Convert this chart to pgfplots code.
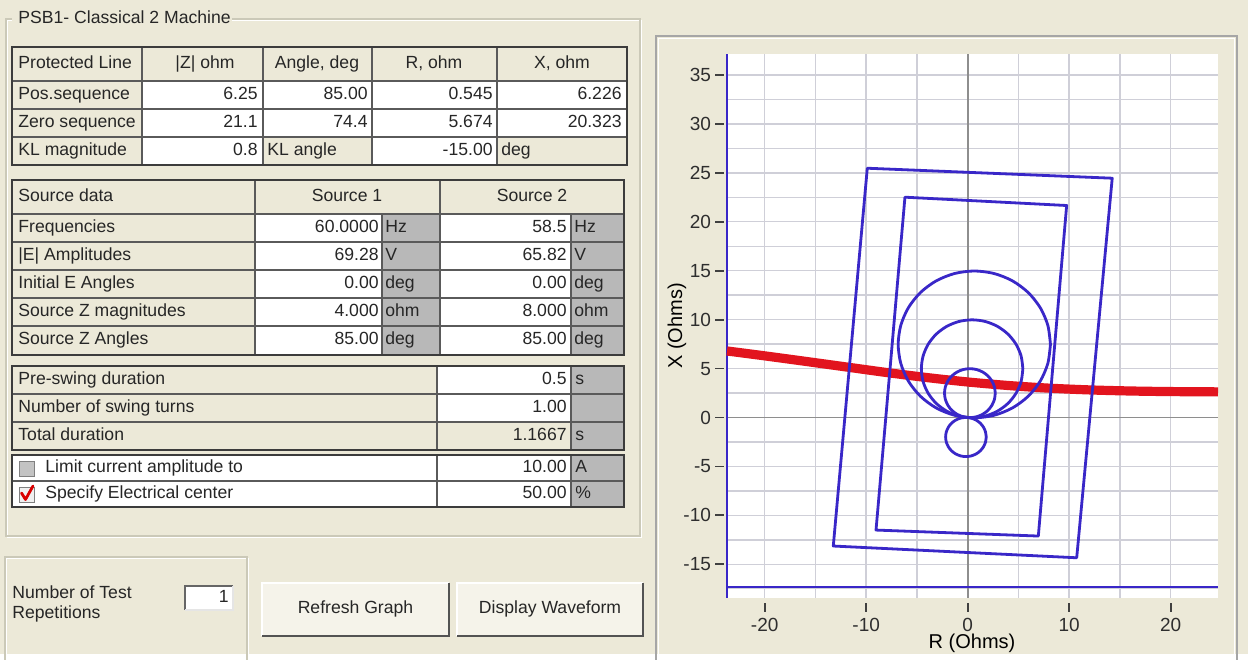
\documentclass[border=0pt]{standalone}
\usepackage{pgfplots}
\pgfplotsset{compat=1.18}
\usepackage{fontspec}
\setmainfont{Liberation Sans}

\definecolor{panel}{HTML}{ECE9D8}
\definecolor{unitgray}{HTML}{B8B8B8}
\definecolor{rulec}{HTML}{5A5A5A}
\definecolor{framec}{HTML}{3C3C3C}
\definecolor{etch}{HTML}{CBC9B8}
\definecolor{textc}{HTML}{262626}
\definecolor{gridc}{HTML}{CFCFD8}
\definecolor{zeroc}{HTML}{8E8E8E}
\definecolor{zoneblue}{HTML}{3927C8}
\definecolor{swingred}{HTML}{E2141E}

\tikzset{lbl/.style={inner sep=0pt, text height=6.6pt, text depth=1.9pt,
  font=\fontsize{8.8}{10}\selectfont, text=textc}}
\newcommand\TL[3]{\node[lbl,anchor=west] at (#1,#2) {#3};}
\newcommand\TR[3]{\node[lbl,anchor=east] at (#1,#2) {#3};}
\newcommand\TC[3]{\node[lbl] at (#1,#2) {#3};}
\newcommand\CW[4]{\fill[white] (#1,#2) rectangle (#3,#4);}
\newcommand\CG[4]{\fill[unitgray] (#1,#2) rectangle (#3,#4);}

\begin{document}
\begin{tikzpicture}
% ---------------- dialog (units: screen pixels, y downwards) ----------------
\begin{scope}[x=0.5pt,y=-0.5pt]
\useasboundingbox (0,0) rectangle (1248,654);
\fill[panel] (0,0) rectangle (1248,654);

% group box
\draw[white, line width=0.6pt] (7.5,20.5) rectangle (641.5,537.5);
\draw[etch, line width=0.8pt] (6,19) rectangle (640,536);
\fill[panel] (12,8) rectangle (232,30);
\TL{18}{19}{PSB1- Classical 2 Machine}

% protected line table
\CW{142}{81}{627}{137}
\CW{142}{137}{263}{165}
\CW{372}{137}{497}{165}
\draw[rulec, line width=0.7pt] (12,81) -- (627,81) (12,109) -- (627,109) (12,137) -- (627,137)
  (142,47) -- (142,165) (263,47) -- (263,165) (372,47) -- (372,165) (497,47) -- (497,165);
\draw[framec, line width=1.2pt] (12,47) rectangle (627,165);
\TL{18}{64}{Protected Line}
\TC{205}{64}{|Z| ohm}
\TC{317}{64}{Angle, deg}
\TC{434}{64}{R, ohm}
\TC{562}{64}{X, ohm}
\TL{18}{95}{Pos.sequence}
\TR{258}{95}{6.25}
\TR{368}{95}{85.00}
\TR{493}{95}{0.545}
\TR{622}{95}{6.226}
\TL{18}{123}{Zero sequence}
\TR{258}{123}{21.1}
\TR{368}{123}{74.4}
\TR{493}{123}{5.674}
\TR{622}{123}{20.323}
\TL{18}{151}{KL magnitude}
\TR{258}{151}{0.8}
\TL{267}{151}{KL angle}
\TR{493}{151}{-15.00}
\TL{501}{151}{deg}

% source data table
\CW{255}{214}{382}{355}
\CG{382}{214}{440}{355}
\CW{440}{214}{571}{355}
\CG{571}{214}{624}{355}
\draw[rulec, line width=0.7pt] (12,214) -- (624,214) (12,242) -- (624,242) (12,270) -- (624,270)
  (12,298) -- (624,298) (12,326) -- (624,326)
  (255,180) -- (255,355) (440,180) -- (440,355) (382,214) -- (382,355) (571,214) -- (571,355);
\draw[framec, line width=1.2pt] (12,180) rectangle (624,355);
\TL{18}{197}{Source data}
\TC{347}{197}{Source 1}
\TC{532}{197}{Source 2}
\TL{18}{228}{Frequencies}
\TR{379}{228}{60.0000}\TL{385}{228}{Hz}
\TR{567}{228}{58.5}\TL{574}{228}{Hz}
\TL{18}{256}{|E| Amplitudes}
\TR{379}{256}{69.28}\TL{385}{256}{V}
\TR{567}{256}{65.82}\TL{574}{256}{V}
\TL{18}{284}{Initial E Angles}
\TR{379}{284}{0.00}\TL{385}{284}{deg}
\TR{567}{284}{0.00}\TL{574}{284}{deg}
\TL{18}{312}{Source Z magnitudes}
\TR{379}{312}{4.000}\TL{385}{312}{ohm}
\TR{567}{312}{8.000}\TL{574}{312}{ohm}
\TL{18}{340}{Source Z Angles}
\TR{379}{340}{85.00}\TL{385}{340}{deg}
\TR{567}{340}{85.00}\TL{574}{340}{deg}

% swing timing table
\CW{437}{366}{571}{422}
\CG{571}{366}{624}{450}
\draw[rulec, line width=0.7pt] (12,394) -- (624,394) (12,422) -- (624,422)
  (437,366) -- (437,450) (571,366) -- (571,450);
\draw[framec, line width=1.2pt] (12,366) rectangle (624,450);
\TL{18}{380}{Pre-swing duration}
\TR{567}{380}{0.5}\TL{575}{380}{s}
\TL{18}{408}{Number of swing turns}
\TR{567}{408}{1.00}
\TL{18}{436}{Total duration}
\TR{567}{436}{1.1667}\TL{575}{436}{s}

% options table
\CW{12}{455}{571}{507}
\CG{571}{455}{624}{507}
\draw[rulec, line width=0.7pt] (12,481) -- (624,481) (437,455) -- (437,507) (571,455) -- (571,507);
\draw[framec, line width=1.2pt] (12,455) rectangle (624,507);
\filldraw[fill=unitgray!85, draw=gray] (19,461) rectangle (34,476);
\filldraw[fill=white!88!gray, draw=gray] (19,487) rectangle (34,502);
\draw[red!85!black, line width=1.4pt, line cap=round, line join=round] (21.5,493) -- (25.5,499.5) -- (33,486);
\TL{45}{468}{Limit current amplitude to}
\TR{567}{468}{10.00}\TL{575}{468}{A}
\TL{45}{494}{Specify Electrical center}
\TR{567}{494}{50.00}\TL{575}{494}{\%}

% repetitions and buttons
\draw[white, line width=0.6pt] (6.5,660) -- (6.5,558.5) -- (248.5,558.5) -- (248.5,660);
\draw[etch, line width=0.8pt] (5,660) -- (5,557) -- (247,557) -- (247,660);
\TL{12}{594}{Number of Test}
\TL{12}{614}{Repetitions}
\fill[white] (185,586) rectangle (233,610);
\draw[gray!80!black, line width=0.8pt] (185,610) -- (185,586) -- (233,586);
\draw[white!80!gray, line width=0.8pt] (233,586) -- (233,610) -- (185,610);
\TR{229}{598}{1}
\foreach \a/\b/\t in {262/449/Refresh Graph, 457/643/Display Waveform}{
  \fill[panel!55!white] (\a,583) rectangle (\b,636);
  \draw[white, line width=1pt] (\a,636) -- (\a,583) -- (\b,583);
  \draw[gray!65!black, line width=1.2pt] (\b,583) -- (\b,636) -- (\a,636);
  \TC{{(\a+\b)/2}}{609}{\t}
}

% plot panel frame
\draw[black!35, line width=1.2pt] (656,36) rectangle (1237,680);
\draw[white, line width=0.8pt] (658.5,38.5) rectangle (1234.5,680);
\end{scope}

% ---------------- impedance plane ----------------
\begin{axis}[
  at={(363.5pt,-299pt)}, anchor=south west,
  scale only axis, width=245.5pt, height=272pt,
  xmin=-23.71, xmax=24.66, ymin=-18.44, ymax=37.14,
  clip=false,
  axis background/.style={fill=white},
  axis line style={draw=none},
  xtick={-20,-10,0,10,20},
  ytick={-15,-10,-5,0,5,10,15,20,25,30,35},
  minor xtick={-15,-5,5,15},
  minor ytick={-17.5,-12.5,-7.5,-2.5,2.5,7.5,12.5,17.5,22.5,27.5,32.5},
  grid=both,
  major grid style={draw=gridc, line width=0.7pt},
  minor grid style={draw=gridc, line width=0.7pt},
  tick align=outside, xtick pos=bottom, ytick pos=left,
  major tick length=4.5pt, minor tick length=0pt,
  tick style={draw=black!75, line width=0.9pt},
  every major x tick/.append style={yshift=-2.5pt},
  every major y tick/.append style={xshift=-1.5pt},
  tick label style={font=\fontsize{9.5}{11}\selectfont, text=black!82},
  /pgf/number format/assume math mode=true,
  xticklabel style={yshift=-2pt},
  xlabel={R (Ohms)}, ylabel={X (Ohms)},
  label style={font=\fontsize{9.5}{11}\selectfont, text=black!82},
  every axis x label/.style={at={(axis description cs:0.499,-0.083)}, anchor=center},
  every axis y label/.style={at={(axis description cs:-0.102,0.5)}, anchor=center, rotate=90},
]
% zero axes
\addplot[zeroc, line width=0.9pt] coordinates {(0,-18.44) (0,37.14)};
\addplot[zeroc, line width=0.9pt] coordinates {(-23.71,0) (24.66,0)};
% chart frame lines
\addplot[zoneblue, line width=1pt] coordinates {(-23.71,-18.44) (-23.71,37.14)};
\addplot[zoneblue, line width=1pt] coordinates {(-23.71,-17.3) (24.66,-17.3)};

% impedance trajectory of the swing
\addplot[swingred, line width=4.6pt, smooth] coordinates {
  (-23.71,6.80) (-20,6.30) (-16,5.74) (-12,5.17) (-8,4.60) (-4,4.08) (0,3.63)
  (4,3.27) (8,3.00) (12,2.82) (16,2.71) (20,2.65) (24.66,2.62)};

% quadrilateral zones
\addplot[zoneblue, line width=1.4pt, line join=round, line cap=round] coordinates {
  (-9.89,25.47) (14.24,24.45) (10.74,-14.33) (-13.24,-13.13) (-9.89,25.47)};
\addplot[zoneblue, line width=1.4pt, line join=round, line cap=round] coordinates {
  (-6.18,22.51) (9.75,21.66) (6.96,-12.11) (-9.03,-11.50) (-6.18,22.51)};

% mho zones
\addplot[zoneblue, line width=1.4pt, smooth] coordinates {
  (8.154,7.470) (7.898,9.411) (7.149,11.220) (5.957,12.773) (4.404,13.965) (2.595,14.714)
  (0.654,14.970) (-1.287,14.714) (-3.096,13.965) (-4.649,12.773) (-5.841,11.220) (-6.590,9.411)
  (-6.846,7.470) (-6.590,5.529) (-5.841,3.720) (-4.649,2.167) (-3.096,0.975) (-1.287,0.226)
  (0.654,-0.030) (2.595,0.226) (4.404,0.975) (5.957,2.167) (7.149,3.720) (7.898,5.529)
  (8.154,7.470)};
\addplot[zoneblue, line width=1.4pt, smooth] coordinates {
  (5.436,4.981) (5.266,6.275) (4.766,7.481) (3.972,8.517) (2.936,9.311) (1.730,9.811)
  (0.436,9.981) (-0.858,9.811) (-2.064,9.311) (-3.100,8.517) (-3.894,7.481) (-4.394,6.275)
  (-4.564,4.981) (-4.394,3.687) (-3.894,2.481) (-3.100,1.445) (-2.064,0.651) (-0.858,0.151)
  (0.436,-0.019) (1.730,0.151) (2.936,0.651) (3.972,1.445) (4.766,2.481) (5.266,3.687)
  (5.436,4.981)};
\addplot[zoneblue, line width=1.4pt, smooth] coordinates {
  (2.718,2.490) (2.633,3.137) (2.383,3.740) (1.986,4.258) (1.468,4.655) (0.865,4.905)
  (0.218,4.990) (-0.429,4.905) (-1.032,4.655) (-1.550,4.258) (-1.947,3.740) (-2.197,3.137)
  (-2.282,2.490) (-2.197,1.843) (-1.947,1.240) (-1.550,0.722) (-1.032,0.325) (-0.429,0.075)
  (0.218,-0.010) (0.865,0.075) (1.468,0.325) (1.986,0.722) (2.383,1.240) (2.633,1.843)
  (2.718,2.490)};
\addplot[zoneblue, line width=1.4pt, smooth] coordinates {
  (1.826,-1.992) (1.758,-1.474) (1.558,-0.992) (1.240,-0.578) (0.826,-0.260) (0.344,-0.060)
  (-0.174,0.008) (-0.692,-0.060) (-1.174,-0.260) (-1.588,-0.578) (-1.906,-0.992) (-2.106,-1.474)
  (-2.174,-1.992) (-2.106,-2.510) (-1.906,-2.992) (-1.588,-3.406) (-1.174,-3.724) (-0.692,-3.924)
  (-0.174,-3.992) (0.344,-3.924) (0.826,-3.724) (1.240,-3.406) (1.558,-2.992) (1.758,-2.510)
  (1.826,-1.992)};
\end{axis}
\end{tikzpicture}
\end{document}
